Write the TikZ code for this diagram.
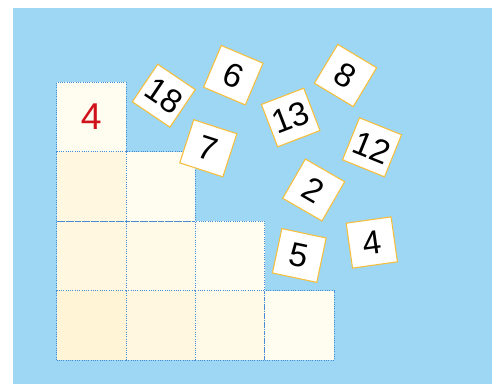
\documentclass[tikz,border=0pt]{standalone}
\usepackage{fontspec}
\setmainfont{Liberation Sans}
\usepackage{xcolor}
\usepackage{tikz}
\usetikzlibrary{shapes.geometric, arrows, positioning}

\definecolor{skyblue}{RGB}{157,215,243}
\definecolor{dotblue}{RGB}{70,140,215}
\definecolor{tileorange}{RGB}{245,190,60}
\definecolor{redfour}{RGB}{208,18,27}
\definecolor{creamA}{RGB}{255,245,214}
\definecolor{creamB}{RGB}{255,247,224}
\definecolor{creamC}{RGB}{255,249,232}
\definecolor{creamD}{RGB}{255,252,240}

\begin{document}
\begin{tikzpicture}[x=0.75pt, y=0.75pt, node distance=52.05pt]
        % Styles
        \tikzstyle{cell} = [rectangle, draw=dotblue, densely dotted, line width=0.7pt, fill=creamC, minimum size=52.05pt, inner sep=0pt]
        \tikzstyle{tile} = [rectangle, draw=tileorange, line width=0.8pt, fill=white, minimum size=34pt, inner sep=0pt, font=\fontsize{25}{25}\selectfont]

        % Background
        \useasboundingbox (0,0) rectangle (496,384);
        \fill [skyblue] (13,0) rectangle (492,376);

        % Staircase of cells
        \node [cell, fill=creamA] (c30) at (91.3,58.7) {};
        \node [cell, fill=creamB, right of=c30] (c31) {};
        \node [cell, fill=creamC, right of=c31] (c32) {};
        \node [cell, fill=creamD, right of=c32] (c33) {};
        \node [cell, fill=creamB, above of=c30] (c20) {};
        \node [cell, fill=creamC, right of=c20] (c21) {};
        \node [cell, fill=creamD, right of=c21] (c22) {};
        \node [cell, fill=creamB, above of=c20] (c10) {};
        \node [cell, fill=creamD, right of=c10] (c11) {};
        \node [cell, fill=creamD, above of=c10, text=redfour, font=\fontsize{28}{28}\selectfont] (c00) {4};

        % Number tiles
        \node [tile, rotate=-34] (tile18) at (163.8,288.3) {18};
        \node [tile, rotate=-23] (tile6) at (233.3,308.8) {6};
        \node [tile, rotate=-18] (tile7) at (208.3,235.7) {7};
        \node [tile, rotate=21] (tile13) at (290.7,266.5) {13};
        \node [tile, rotate=-31] (tile8) at (345.5,308.5) {8};
        \node [tile, rotate=-22] (tile12) at (372,236.7) {12};
        \node [tile, rotate=-30] (tile2) at (313.7,194) {2};
        \node [tile, rotate=-12] (tile5) at (299.3,128.5) {5};
        \node [tile, rotate=8] (tile4) at (371.8,141.5) {4};
    \end{tikzpicture}
\end{document}
